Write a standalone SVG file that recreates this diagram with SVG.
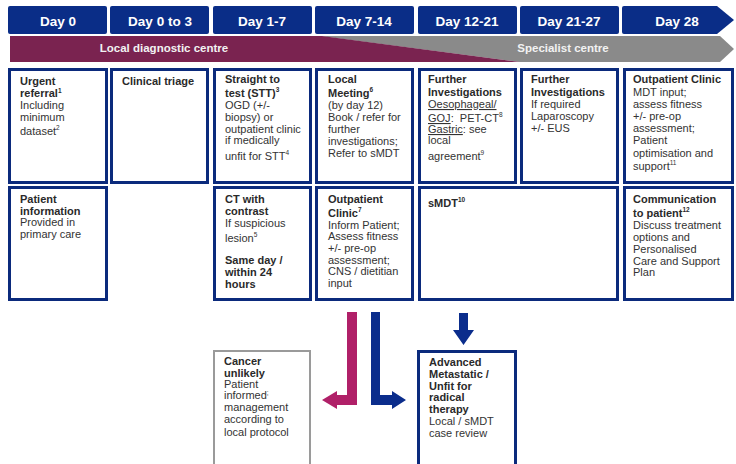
<svg xmlns="http://www.w3.org/2000/svg" width="736" height="464" viewBox="0 0 736 464">
<style>
.tab{fill:#0a2d87;}
.tabt{font-family:"Liberation Sans",Arial,sans-serif;font-weight:bold;font-size:13.5px;fill:#fff;text-anchor:middle;}
.bandt{font-family:"Liberation Sans",Arial,sans-serif;font-weight:bold;font-size:11.5px;fill:#f2f2f2;text-anchor:middle;}
.box{fill:#fff;stroke:#0b2a7c;stroke-width:3;}
.gbox{fill:#fff;stroke:#9a9a9a;stroke-width:2;}
.t{font-family:"Liberation Sans",Arial,sans-serif;font-size:11px;fill:#333;}
.b{font-weight:bold;fill:#2a2a2a;}
.u{text-decoration:underline;}
.sup{font-size:6.5px;}
.mag{fill:#b02068;}
.nav{fill:#0b2d8c;}
</style>
<rect width="736" height="464" fill="#fff"/>
<g id="header">
<rect class="tab" x="8" y="6" width="99" height="28" rx="2"/>
<rect class="tab" x="110" y="6" width="99" height="28" rx="2"/>
<rect class="tab" x="213" y="6" width="99" height="28" rx="2"/>
<rect class="tab" x="315" y="6" width="99" height="28" rx="2"/>
<rect class="tab" x="418" y="6" width="99" height="28" rx="2"/>
<rect class="tab" x="520" y="6" width="99" height="28" rx="2"/>
<path class="tab" d="M624,6 H717 L734,20 L717,34 H624 Q622,34 622,32 V8 Q622,6 624,6 Z"/>
<text class="tabt" x="58" y="26">Day 0</text>
<text class="tabt" x="160" y="26">Day 0 to 3</text>
<text class="tabt" x="262" y="26">Day 1-7</text>
<text class="tabt" x="364" y="26">Day 7-14</text>
<text class="tabt" x="467" y="26">Day 12-21</text>
<text class="tabt" x="569" y="26">Day 21-27</text>
<text class="tabt" x="677" y="26">Day 28</text>
</g>
<g id="band">
<path fill="#8a8a8a" d="M320,36 H720 L734,49 L720,62 H520 Z"/>
<path fill="#7a2350" d="M10,36 H322 L520,62 H10 Z"/>
<text class="bandt" x="164" y="52">Local diagnostic centre</text>
<text class="bandt" x="563" y="52">Specialist centre</text>
</g>
<g id="urgent-referral">
<rect class="box" x="9.5" y="69.5" width="97" height="113"/>
<text class="t"><tspan class="b" x="20" y="85">Urgent</tspan><tspan class="b" x="20" y="97">referral<tspan class="sup" dy="-4">1</tspan></tspan><tspan x="20" y="109">Including</tspan><tspan x="20" y="121">minimum</tspan><tspan x="20" y="135">dataset<tspan class="sup" dy="-5">2</tspan></tspan></text>
</g>
<g id="clinical-triage">
<rect class="box" x="111.5" y="69.5" width="96" height="113"/>
<text class="t b" x="122" y="85">Clinical triage</text>
</g>
<g id="stt">
<rect class="box" x="214.5" y="69.5" width="96" height="113"/>
<text class="t"><tspan class="b" x="225" y="83">Straight to</tspan><tspan class="b" x="225" y="97">test (STT)<tspan class="sup" dy="-5">3</tspan></tspan><tspan x="225" y="109">OGD (+/-</tspan><tspan x="225" y="121">biopsy) or</tspan><tspan x="225" y="133">outpatient clinic</tspan><tspan x="225" y="144">if medically</tspan><tspan x="225" y="160">unfit for STT<tspan class="sup" dy="-5">4</tspan></tspan></text>
</g>
<g id="local-meeting">
<rect class="box" x="316.5" y="69.5" width="96" height="113"/>
<text class="t"><tspan class="b" x="328" y="83">Local</tspan><tspan class="b" x="328" y="97">Meeting<tspan class="sup" dy="-5">6</tspan></tspan><tspan x="328" y="109">(by day 12)</tspan><tspan x="328" y="121">Book / refer for</tspan><tspan x="328" y="133">further</tspan><tspan x="328" y="145">investigations;</tspan><tspan x="328" y="157">Refer to sMDT</tspan></text>
</g>
<g id="further-investigations-1">
<rect class="box" x="419.5" y="69.5" width="96" height="113"/>
<text class="t"><tspan class="b" x="428" y="83">Further</tspan><tspan class="b" x="428" y="96">Investigations</tspan><tspan class="u" x="428" y="108">Oesophageal/</tspan><tspan class="u" x="428" y="122">GOJ</tspan><tspan>:&#160; PET-CT<tspan class="sup" dy="-5">8</tspan></tspan><tspan class="u" x="428" y="133">Gastric</tspan><tspan>: see</tspan><tspan x="428" y="144">local</tspan><tspan x="428" y="160">agreement<tspan class="sup" dy="-5">9</tspan></tspan></text>
</g>
<g id="further-investigations-2">
<rect class="box" x="521.5" y="69.5" width="96" height="113"/>
<text class="t"><tspan class="b" x="531" y="83">Further</tspan><tspan class="b" x="531" y="96">Investigations</tspan><tspan x="531" y="108">If required</tspan><tspan x="531" y="120">Laparoscopy</tspan><tspan x="531" y="132">+/- EUS</tspan></text>
</g>
<g id="outpatient-clinic-28">
<rect class="box" x="624.5" y="69.5" width="108" height="113"/>
<text class="t"><tspan class="b" x="633" y="83">Outpatient Clinic</tspan><tspan x="633" y="96">MDT input;</tspan><tspan x="633" y="108">assess fitness</tspan><tspan x="633" y="120">+/- pre-op</tspan><tspan x="633" y="132">assessment;</tspan><tspan x="633" y="144">Patient</tspan><tspan x="633" y="157">optimisation and</tspan><tspan x="633" y="170">support<tspan class="sup" dy="-5">11</tspan></tspan></text>
</g>
<g id="patient-information">
<rect class="box" x="9.5" y="187.5" width="97" height="112"/>
<text class="t"><tspan class="b" x="20" y="203">Patient</tspan><tspan class="b" x="20" y="215">information</tspan><tspan x="20" y="226">Provided in</tspan><tspan x="20" y="238">primary care</tspan></text>
</g>
<g id="ct-contrast">
<rect class="box" x="214.5" y="187.5" width="96" height="112"/>
<text class="t"><tspan class="b" x="225" y="203">CT with</tspan><tspan class="b" x="225" y="215">contrast</tspan><tspan x="225" y="227">If suspicious</tspan><tspan x="225" y="242">lesion<tspan class="sup" dy="-5">5</tspan></tspan><tspan class="b" x="225" y="264">Same day /</tspan><tspan class="b" x="225" y="276">within 24</tspan><tspan class="b" x="225" y="288">hours</tspan></text>
</g>
<g id="outpatient-clinic-7">
<rect class="box" x="316.5" y="187.5" width="96" height="112"/>
<text class="t"><tspan class="b" x="328" y="203">Outpatient</tspan><tspan class="b" x="328" y="217">Clinic<tspan class="sup" dy="-5">7</tspan></tspan><tspan x="328" y="229">Inform Patient;</tspan><tspan x="328" y="240">Assess fitness</tspan><tspan x="328" y="252">+/- pre-op</tspan><tspan x="328" y="264">assessment;</tspan><tspan x="328" y="275">CNS / dietitian</tspan><tspan x="328" y="287">input</tspan></text>
</g>
<g id="smdt">
<rect class="box" x="419.5" y="187.5" width="198" height="112"/>
<text class="t b" x="428" y="207">sMDT<tspan class="sup" dy="-5">10</tspan></text>
</g>
<g id="communication">
<rect class="box" x="624.5" y="187.5" width="108" height="112"/>
<text class="t"><tspan class="b" x="633" y="203">Communication</tspan><tspan class="b" x="633" y="217">to patient<tspan class="sup" dy="-5">12</tspan></tspan><tspan x="633" y="229">Discuss treatment</tspan><tspan x="633" y="241">options and</tspan><tspan x="633" y="253">Personalised</tspan><tspan x="633" y="265">Care and Support</tspan><tspan x="633" y="276">Plan</tspan></text>
</g>
<g id="cancer-unlikely">
<rect class="gbox" x="214" y="351" width="96" height="125"/>
<text class="t"><tspan class="b" x="224" y="365">Cancer</tspan><tspan class="b" x="224" y="377">unlikely</tspan><tspan x="224" y="388">Patient</tspan><tspan x="224" y="399">informed<tspan class="sup" dy="-4">;</tspan></tspan><tspan x="224" y="411">management</tspan><tspan x="224" y="423">according to</tspan><tspan x="224" y="436">local protocol</tspan></text>
</g>
<g id="advanced">
<rect class="box" x="418.5" y="351.5" width="97" height="125"/>
<text class="t"><tspan class="b" x="429" y="366">Advanced</tspan><tspan class="b" x="429" y="378">Metastatic /</tspan><tspan class="b" x="429" y="390">Unfit for</tspan><tspan class="b" x="429" y="401">radical</tspan><tspan class="b" x="429" y="413">therapy</tspan><tspan x="429" y="425">Local / sMDT</tspan><tspan x="429" y="437">case review</tspan></text>
</g>
<g id="connectors">
<path class="mag" d="M347,312 H357 V405 H337 V409 L322,400 L337,391 V395 H347 Z"/>
<path class="nav" d="M371,312 H380 V395 H392 V391 L406,400 L392,409 V405 H371 Z"/>
<path class="nav" d="M459,313 H468 V330 H474 L463.5,345 L453,330 H459 Z"/>
</g>
</svg>
